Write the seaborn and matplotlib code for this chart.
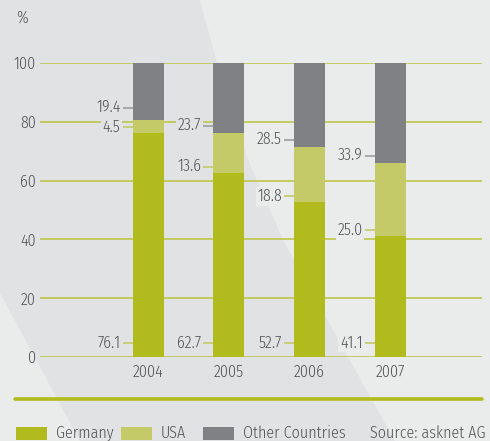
import matplotlib
matplotlib.use("Agg")
import matplotlib.pyplot as plt
from matplotlib.patches import Polygon, Rectangle
from matplotlib.lines import Line2D
import seaborn as sns
import pandas as pd
import numpy as np

years = ["2004", "2005", "2006", "2007"]
germany = [76.1, 62.7, 52.7, 41.1]
usa = [4.5, 13.6, 18.8, 25.0]
other = [19.4, 23.7, 28.5, 33.9]
series = ["Germany", "USA", "Other Countries"]
colors = {"Germany": "#b2bb1e", "USA": "#c5ca68", "Other Countries": "#808184"}
yticks = [0, 20, 40, 60, 80, 100]

sns.set_theme(style="white")
FONT = ["Fira Sans Condensed", "PT Sans Narrow", "DejaVu Sans"]
plt.rcParams["font.family"] = FONT
plt.rcParams["font.weight"] = 300
TXT = "#505153"
BG_L = "#eaebeb"
BG_D = "#e1e2e4"
FS = 11.5
FW = 300

W, H = 490, 441
fig = plt.figure(figsize=(W / 100, H / 100), dpi=100)
fig.patch.set_facecolor(BG_L)

def fx(x):
    return x / W

def fy(y):
    return 1 - y / H

# background darker band
curve = [(200, 0), (217, 63), (248, 160), (283, 240), (333, 330), (395, 441)]
poly = [(0, 0)] + curve + [(80, 441), (0, 293)]
fig.patches.append(Polygon([(fx(a), fy(b)) for a, b in poly], closed=True,
                           transform=fig.transFigure, facecolor=BG_D,
                           edgecolor="none", zorder=-5))

def bg_at(x, y):
    ys = [p[1] for p in curve]
    xs = [p[0] for p in curve]
    bx = np.interp(y, ys, xs)
    return BG_D if x < bx else BG_L

# axes
spacing = 80.7
c0 = 148
left_px, right_px = 40, 482
top_px, bot_px = 63, 357
ax = fig.add_axes([fx(left_px), fy(bot_px), (right_px - left_px) / W,
                   (bot_px - top_px) / H])
ax.set_zorder(2)
ax.patch.set_alpha(0)

df = pd.DataFrame({"year": years, "Germany": germany, "USA": usa,
                   "Other Countries": other})
df["cum_usa"] = df["Germany"] + df["USA"]
df["cum_other"] = df["cum_usa"] + df["Other Countries"]

bw = 31 / spacing
for col, s in [("cum_other", "Other Countries"), ("cum_usa", "USA"),
               ("Germany", "Germany")]:
    sns.barplot(data=df, x="year", y=col, color=colors[s], width=bw,
                saturation=1, ax=ax, zorder=3, linewidth=0)
ax.set_xlim((left_px - c0) / spacing, (right_px - c0) / spacing)
ax.set_ylim(0, 100)

for yv in yticks:
    ax.axhline(yv, color="#bcc33c", lw=1.1, zorder=1)

for sp in ax.spines.values():
    sp.set_visible(False)
ax.set_xlabel("")
ax.set_ylabel("")
ax.set_yticks(yticks)
ax.set_yticklabels([str(v) for v in yticks], color=TXT, fontsize=FS,
                   fontweight=FW)
ax.tick_params(axis="y", length=0, pad=3)
ax.tick_params(axis="x", length=0, pad=5)
ax.set_xticks(range(len(years)))
ax.set_xticklabels(years, color=TXT, fontsize=FS, fontweight=FW)

# value labels
px_per_unit = (bot_px - top_px) / 100
for i in range(len(years)):
    bar_left = i - bw / 2
    tick_l = bar_left - 10 / spacing
    text_x = bar_left - 12 / spacing
    labs = [
        (4.8, germany[i], "#c5ca68"),
        (germany[i] + 2.0, usa[i], "#c5ca68"),
        (germany[i] + usa[i] + (4.2 if i == 0 else 2.4), other[i], "#9d9ea0"),
    ]
    for yv, val, lc in labs:
        ax.plot([tick_l, bar_left], [yv, yv], color=lc, lw=1.2, zorder=4,
                solid_capstyle="butt")
        xpx = c0 + text_x * spacing - 12
        ypx = bot_px - yv * px_per_unit
        ax.text(text_x, yv, f"{val:.1f}", ha="right", va="center",
                fontsize=FS, color=TXT, zorder=5, fontweight=FW,
                bbox=dict(boxstyle="square,pad=0.1", fc=bg_at(xpx, ypx),
                          ec="none"))

# percent sign
fig.text(fx(22), fy(18), "%", ha="center", va="center", fontsize=FS,
         color=TXT, fontweight=FW)

# separator line
fig.add_artist(Line2D([fx(15), fx(482)], [fy(399), fy(399)], color="#b2bb1e",
                      lw=2.6, transform=fig.transFigure))

# legend
leg = [(16, "Germany"), (121, "USA"), (203, "Other Countries")]
for x0, s in leg:
    fig.patches.append(Rectangle((fx(x0), fy(440)), 31 / W, 13 / H,
                                 transform=fig.transFigure,
                                 facecolor=colors[s], edgecolor="none"))
    fig.text(fx(x0 + 40), fy(433), s, ha="left", va="center", fontsize=FS,
             color=TXT, fontweight=FW)
fig.text(fx(485), fy(433), "Source: asknet AG", ha="right", va="center",
         fontsize=FS, color=TXT, fontweight=FW)

fig.savefig("out.png", dpi=100, facecolor=fig.get_facecolor())
